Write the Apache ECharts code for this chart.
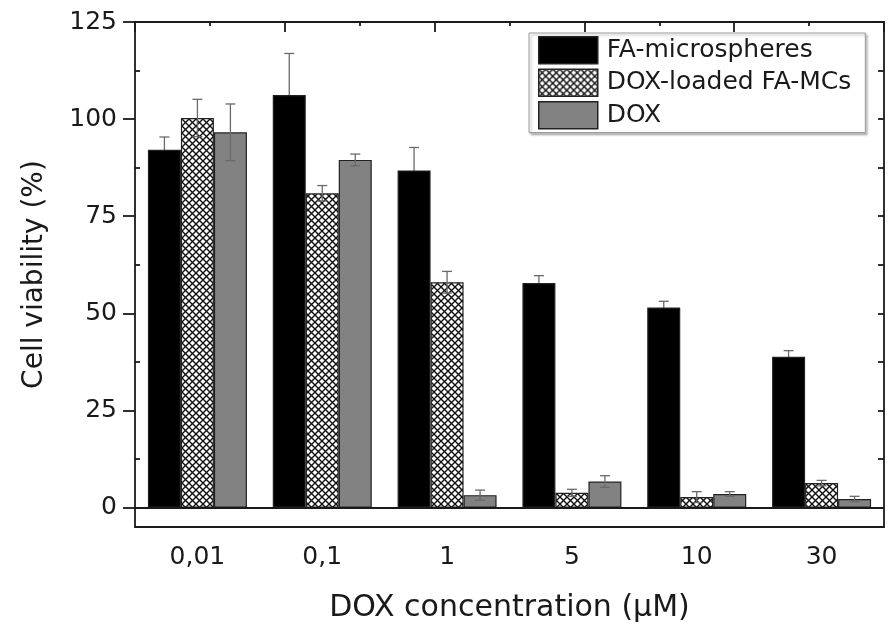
<!DOCTYPE html>
<html>
<head>
<meta charset="utf-8">
<script src="https://cdn.jsdelivr.net/npm/echarts@6/dist/echarts.min.js"></script>
<style>
	html, body { margin: 0; padding: 0; background: #fff; }
	#chart { width: 891px; height: 628px; }
</style>
</head>
<body>
<div id="chart"></div>
<script>
// values
var categories = ['0,01', '0,1', '1', '5', '10', '30'];
var seriesNames = ['FA-microspheres', 'DOX-loaded FA-MCs', 'DOX'];
var faMicro = [92.1, 106.2, 86.8, 57.8, 51.5, 38.8];
var faMicroErr = [3.3, 10.7, 5.9, 1.9, 1.6, 1.6];
var doxLoaded = [100.3, 80.9, 58.0, 3.8, 2.7, 6.3];
var doxLoadedErr = [4.8, 2.0, 2.8, 0.9, 1.4, 0.7];
var dox = [96.6, 89.5, 3.2, 6.7, 3.5, 2.2];
var doxErr = [7.3, 1.5, 1.3, 1.5, 0.6, 0.7];
var yMajor = [0, 25, 50, 75, 100, 125];
var yMinor = [12.5, 37.5, 62.5, 87.5, 112.5];

var FONT = 'DejaVu Sans';
var INK = '#1a1a1a';
var BAR_W = 33;

function hatch() {
	var c = document.createElement('canvas');
	c.width = c.height = 7;
	var g = c.getContext('2d');
	g.fillStyle = '#fff';
	g.fillRect(0, 0, 7, 7);
	g.strokeStyle = '#111';
	g.lineWidth = 1.4;
	g.beginPath();
	g.moveTo(0, 0); g.lineTo(7, 7);
	g.moveTo(7, 0); g.lineTo(0, 7);
	g.stroke();
	return c;
}

function errSeries(vals, errs, shift, z) {
	return {
		type: 'custom',
		xAxisIndex: 0,
		yAxisIndex: 0,
		z: z,
		silent: true,
		data: vals.map(function (v, i) { return [i, v, errs[i]]; }),
		renderItem: function (params, api) {
			var i = api.value(0), v = api.value(1), e = api.value(2);
			var top = api.coord([i, v + e]);
			var bot = api.coord([i, v - e]);
			var x = top[0] + shift;
			var st = { stroke: '#6a6a6a', lineWidth: 1.3 };
			return {
				type: 'group',
				children: [
					{ type: 'line', shape: { x1: x, y1: top[1], x2: x, y2: bot[1] }, style: st },
					{ type: 'line', shape: { x1: x - 5, y1: top[1], x2: x + 5, y2: top[1] }, style: st },
					{ type: 'line', shape: { x1: x - 5, y1: bot[1], x2: x + 5, y2: bot[1] }, style: st }
				]
			};
		}
	};
}

var pattern = { image: hatch(), repeat: 'repeat' };
var barBorder = { borderColor: '#222', borderWidth: 1.2 };
var axisLine = { color: INK, width: 1.8 };

var myChart = echarts.init(document.getElementById('chart'));
var option = {
	animation: false,
	backgroundColor: '#fff',
	grid: { left: 135, right: 7, top: 22, bottom: 100 },
	legend: {
		data: seriesNames,
		orient: 'vertical',
		left: 529,
		top: 33,
		itemWidth: 59,
		itemHeight: 27,
		itemGap: 4,
		padding: [3, 14, 3, 9],
		backgroundColor: '#fff',
		borderColor: '#9a9a9a',
		borderWidth: 1,
		borderRadius: 0,
		shadowColor: 'rgba(0,0,0,0.25)',
		shadowBlur: 2,
		shadowOffsetX: 2,
		shadowOffsetY: 2,
		icon: 'rect',
		itemStyle: { borderColor: '#222', borderWidth: 1.5 },
		textStyle: { fontFamily: FONT, fontSize: 25, color: INK, padding: [0, 0, 0, 4] }
	},
	xAxis: [
		{
			type: 'category',
			data: categories,
			position: 'bottom',
			axisLine: { onZero: false, lineStyle: axisLine },
			axisTick: { alignWithLabel: true, inside: false, length: 10, lineStyle: axisLine },
			axisLabel: { fontFamily: FONT, fontSize: 25, color: INK, margin: 18 },
			name: 'DOX concentration (\u03bcM)',
			nameLocation: 'middle',
			nameGap: 66,
			nameTextStyle: { fontFamily: FONT, fontSize: 30, color: INK }
		},
		{
			type: 'category',
			data: categories,
			position: 'bottom',
			axisLine: { show: false, onZero: false },
			axisTick: { inside: false, length: 6, lineStyle: axisLine },
			axisLabel: { show: false }
		},
		{
			type: 'value',
			position: 'top',
			min: 0,
			max: 10,
			interval: 2,
			axisLine: { show: true, onZero: false, lineStyle: axisLine },
			axisTick: { show: true, inside: true, length: 10, lineStyle: axisLine },
			minorTick: { show: true, splitNumber: 2, length: 4, lineStyle: axisLine },
			axisLabel: { show: false },
			splitLine: { show: false }
		}
	],
	yAxis: [
		{
			type: 'value',
			position: 'left',
			min: -5,
			max: 125,
			axisLine: { show: true, onZero: false, lineStyle: axisLine },
			axisTick: { show: true, inside: false, length: 12, customValues: yMajor, lineStyle: axisLine },
			axisLabel: { customValues: yMajor, fontFamily: FONT, fontSize: 25, color: INK, margin: 18 },
			splitLine: { show: false },
			name: 'Cell viability (%)',
			nameLocation: 'middle',
			nameGap: 86,
			nameTextStyle: { fontFamily: FONT, fontSize: 28, color: INK }
		},
		{
			type: 'value',
			position: 'left',
			min: -5,
			max: 125,
			axisLine: { show: false },
			axisTick: { show: true, inside: true, length: 5, customValues: yMinor, lineStyle: axisLine },
			axisLabel: { show: false },
			splitLine: { show: false }
		},
		{
			type: 'value',
			position: 'right',
			min: -5,
			max: 125,
			axisLine: { show: true, onZero: false, lineStyle: axisLine },
			axisTick: { show: true, inside: true, length: 6, customValues: yMajor.concat(yMinor), lineStyle: axisLine },
			axisLabel: { show: false },
			splitLine: { show: false }
		}
	],
	series: [
		{
			name: seriesNames[0],
			type: 'bar',
			data: faMicro,
			barWidth: BAR_W,
			barGap: 0,
			z: 2,
			itemStyle: Object.assign({ color: '#000' }, barBorder),
			markLine: {
				silent: true,
				symbol: 'none',
				label: { show: false },
				lineStyle: { color: INK, width: 1.8, type: 'solid' },
				data: [{ yAxis: 0 }]
			}
		},
		{
			name: seriesNames[1],
			type: 'bar',
			data: doxLoaded,
			barWidth: BAR_W,
			barGap: 0,
			z: 2,
			itemStyle: Object.assign({ color: pattern }, barBorder)
		},
		{
			name: seriesNames[2],
			type: 'bar',
			data: dox,
			barWidth: BAR_W,
			barGap: 0,
			z: 2,
			itemStyle: Object.assign({ color: '#828282' }, barBorder)
		},
		errSeries(faMicro, faMicroErr, -BAR_W, 1),
		errSeries(doxLoaded, doxLoadedErr, 0, 3),
		errSeries(dox, doxErr, BAR_W, 3)
	]
};
myChart.setOption(option);
</script>
</body>
</html>
